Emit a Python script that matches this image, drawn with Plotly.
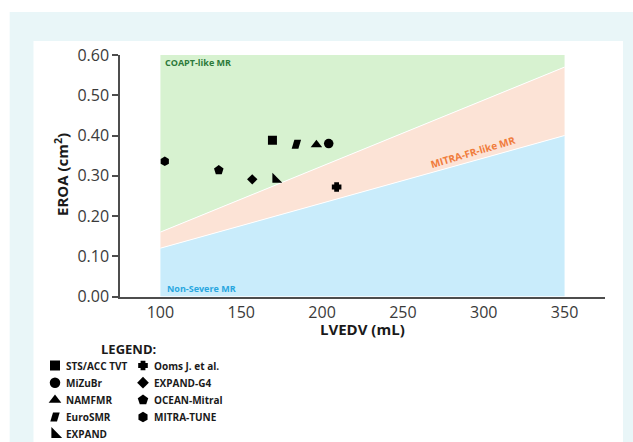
import plotly.graph_objects as go

W, H = 633, 442

# ---------------- data ----------------
studies = ["STS/ACC TVT", "MiZuBr", "NAMFMR", "EuroSMR", "EXPAND",
           "Ooms J. et al.", "EXPAND-G4", "OCEAN-Mitral", "MITRA-TUNE"]
lvedv = [169.3, 204.1, 196.5, 184.1, 171.3, 209.0, 156.8, 136.1, 102.7]
eroa = [0.388, 0.380, 0.377, 0.378, 0.291, 0.272, 0.291, 0.314, 0.336]
symbols = ["square", "circle", "triangle-up", "parallelogram", "triangle-sw",
           "fatcross", "diamond", "pentagon", "hexagon"]

region_x = [100, 350]
region_base = [0.0, 0.0]
nonsevere_upper = [0.12, 0.40]
mitra_upper = [0.16, 0.57]
coapt_upper = [0.60, 0.60]

x_ticks = [100, 150, 200, 250, 300, 350]
y_ticks = [0.0, 0.1, 0.2, 0.3, 0.4, 0.5, 0.6]

# ---------------- styles ----------------
FONT = "Open Sans"
BOLD_FONT = "Open Sans"
sizes = {"square": 9, "circle": 9.5, "triangle-up": 10, "triangle-sw": 11,
         "diamond": 8, "pentagon": 10, "hexagon": 9.5}
custom_paths = {
    "parallelogram": "M -4.7,-4.5 L 2,-4.5 L 4.7,4.5 L -2,4.5 Z",
    "fatcross": ("M -2.4,4.8 L 2.4,4.8 L 2.4,2.4 L 4.8,2.4 L 4.8,-2.4 L 2.4,-2.4 "
                 "L 2.4,-4.8 L -2.4,-4.8 L -2.4,-2.4 L -4.8,-2.4 L -4.8,2.4 L -2.4,2.4 Z"),
}

fig = go.Figure()

# regions
fig.add_trace(go.Scatter(x=region_x, y=region_base, mode="lines",
                         line=dict(width=0), hoverinfo="skip", showlegend=False))
fig.add_trace(go.Scatter(x=region_x, y=nonsevere_upper, mode="lines", fill="tonexty",
                         fillcolor="#c9ecfb", line=dict(color="white", width=1),
                         hoverinfo="skip", showlegend=False))
fig.add_trace(go.Scatter(x=region_x, y=mitra_upper, mode="lines", fill="tonexty",
                         fillcolor="#fce3d6", line=dict(color="white", width=1),
                         hoverinfo="skip", showlegend=False))
fig.add_trace(go.Scatter(x=region_x, y=coapt_upper, mode="lines", fill="tonexty",
                         fillcolor="#d7f2d0", line=dict(width=0),
                         hoverinfo="skip", showlegend=False))

shapes = []
# background panels
shapes.append(dict(type="rect", xref="paper", yref="paper", x0=9.7 / W, x1=1.0,
                   y0=0, y1=(H - 12) / H, fillcolor="#e9f6f8", line=dict(width=0),
                   layer="below"))
shapes.append(dict(type="rect", xref="paper", yref="paper", x0=33.5 / W, x1=623 / W,
                   y0=0, y1=(H - 41) / H, fillcolor="white", line=dict(width=0),
                   layer="below"))

# data points
bx, by, bs, bz, bn = [], [], [], [], []
for n, x, y, s in zip(studies, lvedv, eroa, symbols):
    if s in custom_paths:
        shapes.append(dict(type="path", xref="x", yref="y", xsizemode="pixel",
                           ysizemode="pixel", xanchor=x, yanchor=y,
                           path=custom_paths[s], fillcolor="black",
                           line=dict(width=0), layer="above"))
    else:
        bx.append(x); by.append(y); bs.append(s); bz.append(sizes[s]); bn.append(n)
fig.add_trace(go.Scatter(x=bx, y=by, mode="markers", text=bn,
                         marker=dict(symbol=bs, size=bz, color="black", opacity=1,
                                     line=dict(width=0)),
                         showlegend=False, hovertemplate="%{text}<br>%{x}, %{y}<extra></extra>"))

# ---------------- custom legend (pixel-space helper axes) ----------------
leg_col_x = [55, 143]
leg_row_y0 = 365.5
leg_row_dy = 17.2
rows_per_col = 5
lx, ly, ls, lz = [], [], [], []
annotations = []
for i, (n, s) in enumerate(zip(studies, symbols)):
    col, row = divmod(i, rows_per_col)
    mx = leg_col_x[col]
    my = leg_row_y0 + row * leg_row_dy
    if s in custom_paths:
        shapes.append(dict(type="path", xref="x2", yref="y2", xsizemode="pixel",
                           ysizemode="pixel", xanchor=mx, yanchor=my,
                           path=custom_paths[s], fillcolor="black", line=dict(width=0)))
    else:
        lx.append(mx); ly.append(my); ls.append(s); lz.append(sizes[s] + 1)
    annotations.append(dict(xref="x2", yref="y2", x=mx + 9, y=my, text=n,
                            showarrow=False, xanchor="left", yanchor="middle",
                            font=dict(family=BOLD_FONT, size=10, color="#1a1a1a",
                                      weight="bold")))
fig.add_trace(go.Scatter(x=lx, y=ly, mode="markers", xaxis="x2", yaxis="y2",
                         marker=dict(symbol=ls, size=lz, color="black", opacity=1,
                                     line=dict(width=0)),
                         hoverinfo="skip", showlegend=False))
annotations.append(dict(xref="x2", yref="y2", x=128, y=348.5, text="LEGEND:",
                        showarrow=False, xanchor="center", yanchor="middle",
                        font=dict(family=BOLD_FONT, size=13, color="#1a1a1a",
                                  weight="bold")))

# region labels
annotations.append(dict(xref="x", yref="y", x=101.9, y=0.581, text="COAPT-like MR",
                        showarrow=False, xanchor="left", yanchor="middle",
                        font=dict(family=BOLD_FONT, size=9, color="#2d7a3a", weight="bold")))
annotations.append(dict(xref="x", yref="y", x=102.9, y=0.019, text="Non-Severe MR",
                        showarrow=False, xanchor="left", yanchor="middle",
                        font=dict(family=BOLD_FONT, size=9, color="#29a7df", weight="bold")))
annotations.append(dict(xref="x", yref="y", x=293.1, y=0.359, text="MITRA-FR-like MR",
                        showarrow=False, xanchor="center", yanchor="middle", textangle=-16.5,
                        font=dict(family=BOLD_FONT, size=10, color="#f07c3c", weight="bold")))

# axis titles
annotations.append(dict(xref="paper", yref="paper", x=362 / W, y=(H - 329) / H,
                        text="LVEDV (mL)", showarrow=False, xanchor="center", yanchor="middle",
                        font=dict(family=BOLD_FONT, size=15, color="#1a1a1a", weight="bold")))
annotations.append(dict(xref="paper", yref="paper", x=61 / W, y=(H - 175) / H,
                        text="EROA (cm<sup>2</sup>)", showarrow=False, textangle=-90,
                        xanchor="center", yanchor="middle",
                        font=dict(family=BOLD_FONT, size=15, color="#1a1a1a", weight="bold")))

fig.update_layout(
    width=W, height=H, autosize=False,
    margin=dict(l=0, r=0, t=0, b=0, pad=0, autoexpand=False),
    paper_bgcolor="white", plot_bgcolor="rgba(0,0,0,0)",
    shapes=shapes, annotations=annotations, showlegend=False,
    xaxis=dict(domain=[120 / W, 605 / W], range=[75, 375], tickvals=x_ticks,
               showgrid=False, zeroline=False, showline=True, linecolor="#4d4d4d",
               linewidth=2, ticks="", ticklabelstandoff=0, automargin=False,
               tickfont=dict(family=FONT, size=16, color="#3a3a3a")),
    yaxis=dict(domain=[(H - 296.5) / H, (H - 55) / H], range=[0, 0.6], tickvals=y_ticks,
               tickformat=".2f", showgrid=False, zeroline=False, showline=True,
               linecolor="#4d4d4d", linewidth=1.5, ticks="outside", ticklen=6,
               tickcolor="#4d4d4d", tickwidth=1.5, automargin=False,
               tickfont=dict(family=FONT, size=16, color="#3a3a3a")),
    xaxis2=dict(domain=[0, 1], range=[0, W], visible=False, anchor="y2", automargin=False),
    yaxis2=dict(domain=[0, 1], range=[H, 0], visible=False, anchor="x2", automargin=False),
)

fig.write_html("out.html",
               config={"displayModeBar": False},
               post_script="document.body.style.margin='0';"
                           "document.body.style.overflow='hidden';")
